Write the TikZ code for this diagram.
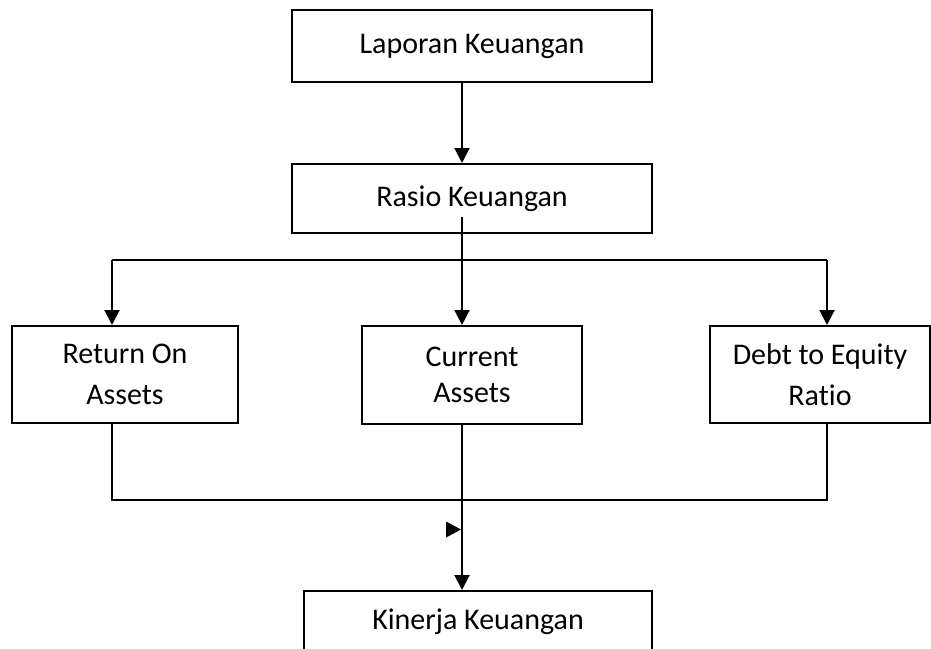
\documentclass[tikz,border=0pt]{standalone}
\usepackage{fontspec}
\setmainfont{Carlito}[RawFeature=-liga]
\usetikzlibrary{arrows.meta}
\begin{document}
\begin{tikzpicture}[x=1pt,y=-1pt,
  box/.style={draw,line width=2pt,align=center,inner sep=0pt,font=\fontsize{30}{41}\selectfont},
  conn/.style={line width=2pt},
  arr/.style={conn,-{Triangle[length=15pt,width=15pt]}}]
\useasboundingbox (0,0) rectangle (931,648);
\node[box,minimum width=360,minimum height=72] (lap) at (472,46) {Laporan Keuangan};
\node[box,minimum width=360,minimum height=69] (ras) at (472,198.5) {Rasio Keuangan};
\node[box,minimum width=226,minimum height=97] (roa) at (125,374.5) {Return On\\Assets};
\node[box,minimum width=220,minimum height=98,font=\fontsize{30}{36}\selectfont] (cur) at (472,375) {Current\\Assets};
\node[box,minimum width=220,minimum height=97] (der) at (820,374.5) {Debt to Equity\\Ratio};
\node[box,minimum width=348,minimum height=62,anchor=north] (kin) at (478,590) {Kinerja Keuangan};
\coordinate (cx) at (462,0);
\coordinate (cl) at (112,0);
\coordinate (cr) at (827,0);
\coordinate (hy) at (0,260);
\coordinate (by) at (0,500);
\draw[arr] (lap.south -| cx) -- (ras.north -| cx);
\coordinate (rs) at ([yshift=17]ras.south -| cx);
\draw[conn] (hy -| cl) -- (hy -| cr);
\draw[arr] (rs) -- (cur.north -| cx);
\draw[arr] (hy -| cl) -- (roa.north -| cl);
\draw[arr] (hy -| cr) -- (der.north -| cr);
\draw[conn] (roa.south -| cl) -- (by -| cl) -- (by -| cr) -- (der.south -| cr);
\draw[arr] (cur.south -| cx) -- (kin.north -| cx);
\coordinate (tri) at (462,529.5);
\fill ([xshift=-1]tri) -- ([xshift=-16,yshift=-8]tri) -- ([xshift=-16,yshift=8]tri) -- cycle;
\end{tikzpicture}
\end{document}
